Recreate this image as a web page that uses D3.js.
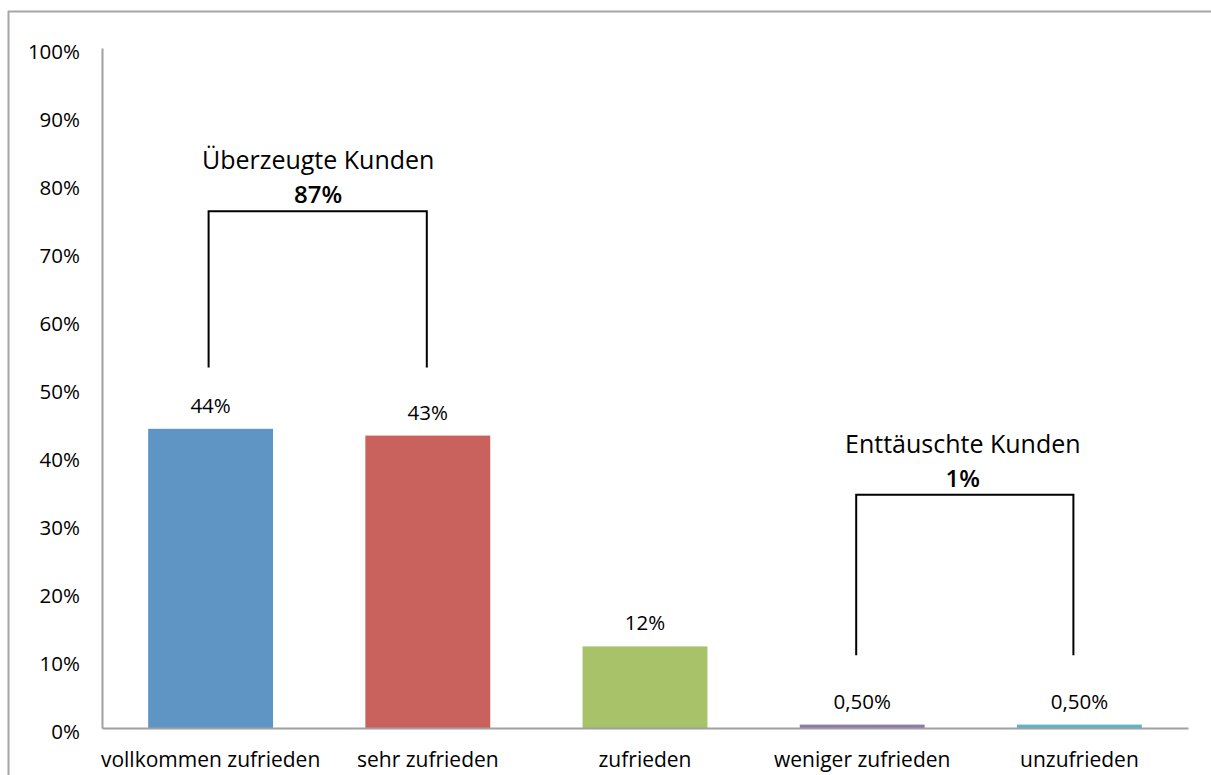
<!DOCTYPE html>
<html>
<head>
<meta charset="utf-8">
<script src="https://cdn.jsdelivr.net/npm/d3@7"></script>
<style>
  body{margin:0;background:#fff;}
  svg{display:block;}
</style>
</head>
<body>
<div id="chart"></div>
<script>
var categories = ["vollkommen zufrieden","sehr zufrieden","zufrieden","weniger zufrieden","unzufrieden"];
var values = [44,43,12,0.5,0.5];
var valueLabels = ["44%","43%","12%","0,50%","0,50%"];
var barColors = ["#5f95c4","#c9625c","#a7c269","#8e79a8","#5ab5c8"];
var yTicks = [0,10,20,30,40,50,60,70,80,90,100];

// brackets over groups of bars (top / bottom given in % of the axis)
var groupTitles = ["Überzeugte Kunden","Enttäuschte Kunden"];
var groupTotals = ["87%","1%"];
var groupFrom = ["vollkommen zufrieden","weniger zufrieden"];
var groupTo = ["sehr zufrieden","unzufrieden"];
var groupTop = [76,34.3];
var groupBottom = [53,10.7];

var width = 1211, height = 775;
var margin = {left:102, right:23, top:48, bottom:47};
var font = "'Open Sans', sans-serif";

var svg = d3.select('#chart').append('svg')
    .attr('width',width).attr('height',height);

// outer frame
svg.append('path')
    .attr('d','M8.5,'+height+'V11.5H'+width)
    .attr('fill','none')
    .attr('stroke','#a6a6a6')
    .attr('stroke-width',2);

var x = d3.scaleBand()
    .domain(categories)
    .range([margin.left,width-margin.right])
    .paddingInner(0.425)
    .paddingOuter(0.2125);

var y = d3.scaleLinear()
    .domain([0,100])
    .range([height-margin.bottom,margin.top]);

// y axis
var yAxis = d3.axisLeft(y)
    .tickValues(yTicks)
    .tickSize(0)
    .tickPadding(22)
    .tickFormat(function(d){return d+'%';});
var gy = svg.append('g')
    .attr('transform','translate('+margin.left+',0)')
    .call(yAxis);
gy.select('.domain').attr('stroke','#a0a0a0').attr('stroke-width',2);
gy.selectAll('text')
    .attr('font-family',font)
    .attr('font-size','20.5px')
    .attr('font-weight','500')
    .attr('fill','#000')
    .attr('dy','0.5em');

// bars
svg.append('g').selectAll('rect')
    .data(values)
    .enter().append('rect')
    .attr('x',function(d,i){return x(categories[i]);})
    .attr('y',function(d){return y(d);})
    .attr('width',x.bandwidth())
    .attr('height',function(d){return y(0)-y(d);})
    .attr('fill',function(d,i){return barColors[i];});

// value labels
svg.append('g').selectAll('text')
    .data(values)
    .enter().append('text')
    .text(function(d,i){return valueLabels[i];})
    .attr('x',function(d,i){return x(categories[i])+x.bandwidth()/2;})
    .attr('y',function(d){return y(d)-16;})
    .attr('text-anchor','middle')
    .attr('font-family',font)
    .attr('font-size','20.5px')
    .attr('font-weight','500')
    .attr('fill','#000');

// x axis
var xAxis = d3.axisBottom(x).tickSize(0).tickPadding(24);
var gx = svg.append('g')
    .attr('transform','translate(0,'+y(0)+')')
    .call(xAxis);
gx.select('.domain').attr('stroke','#a0a0a0').attr('stroke-width',2);
gx.selectAll('text')
    .attr('font-family',font)
    .attr('font-size','21px')
    .attr('font-weight','500')
    .attr('fill','#000');

// group brackets
var groups = svg.append('g').selectAll('g')
    .data(groupTitles)
    .enter().append('g');

groups.append('path')
    .attr('d',function(d,i){
        var x0 = x(groupFrom[i])+x.bandwidth()/2-(i?6:2);
        var x1 = x(groupTo[i])+x.bandwidth()/2-(i?6:1);
        return 'M'+x0+','+y(groupBottom[i])+'V'+y(groupTop[i])+'H'+x1+'V'+y(groupBottom[i]);
    })
    .attr('fill','none')
    .attr('stroke','#000')
    .attr('stroke-width',2);

groups.append('text')
    .text(function(d){return d;})
    .attr('x',function(d,i){return (x(groupFrom[i])+x(groupTo[i])+x.bandwidth())/2-(i?8:1);})
    .attr('y',function(d,i){return y(groupTop[i])-42;})
    .attr('text-anchor','middle')
    .attr('font-family',font)
    .attr('font-size','25px')
    .attr('font-weight','500')
    .attr('fill','#000');

groups.append('text')
    .text(function(d,i){return groupTotals[i];})
    .attr('x',function(d,i){return (x(groupFrom[i])+x(groupTo[i])+x.bandwidth())/2-(i?8:1);})
    .attr('y',function(d,i){return y(groupTop[i])-8;})
    .attr('text-anchor','middle')
    .attr('font-family',font)
    .attr('font-weight','600')
    .attr('font-size','24px')
    .attr('fill','#000');
</script>
</body>
</html>
